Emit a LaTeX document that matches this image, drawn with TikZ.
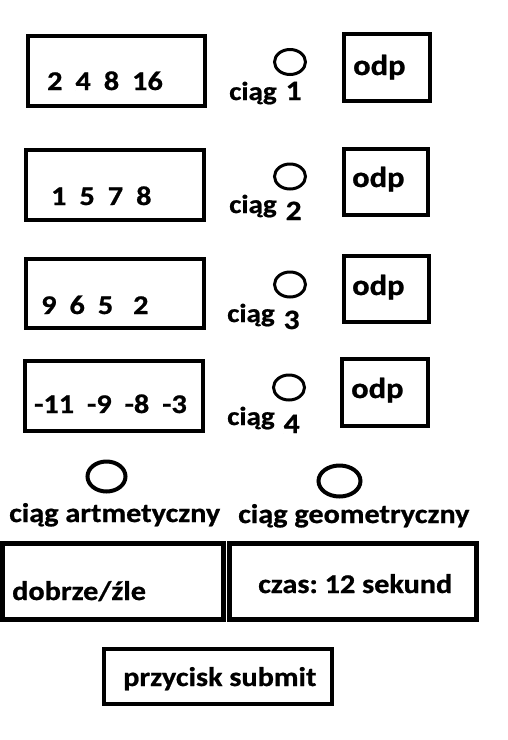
\documentclass[tikz,border=0pt]{standalone}
\usepackage{fontspec}
\setmainfont{Carlito}
\newfontfamily\paintfont{Carlito}[FakeStretch=1.12,FakeBold=0.8]
\usepackage{tikz}
\usetikzlibrary{shapes.geometric, positioning}
\tikzset{seqbox/.style={rectangle,draw,line width=4pt,inner sep=0pt},
         odpbox/.style={rectangle,draw,line width=4pt,inner sep=0pt},
         bigbox/.style={rectangle,draw,line width=5pt,inner sep=0pt},
         radio/.style={ellipse,draw,line width=3pt,inner sep=0pt},
         txt/.style={inner sep=0pt,anchor=base west,font=\paintfont\bfseries\fontsize{27}{30}\selectfont},
         labtxt/.style={txt,font=\paintfont\bfseries\fontsize{26}{30}\selectfont},
         odptxt/.style={txt,font=\paintfont\bfseries\fontsize{29}{32}\selectfont},
         bigtxt/.style={txt,font=\paintfont\bfseries\fontsize{27}{32}\selectfont}}
\newcommand{\gap}{\hspace{13pt}}
\newcommand{\seqno}[2]{\hspace{9pt}\raisebox{#1}{\fontsize{28}{30}\selectfont #2}}
\begin{document}
\begin{tikzpicture}[x=1pt,y=-1pt]
    \useasboundingbox (0,0) rectangle (508,740);
    % row 1
    \node (seq1) [seqbox, minimum width=177pt, minimum height=70pt] at (116.5,71) {};
    \node (nums1) [txt] at (47,90) {2\gap4\gap8\gap16};
    \node (dot1) [radio, minimum width=31pt, minimum height=25pt] at (290,62) {};
    \node (lab1) [labtxt] at (229,100) {ciąg\seqno{0pt}{1}};
    \node (odp1) [odpbox, minimum width=86pt, minimum height=67pt] at (387,67.5) {};
    \node (ans1) [odptxt] at (353,75) {odp};
    % row 2
    \node (seq2) [seqbox, minimum width=178pt, minimum height=70pt] at (115,185) {};
    \node (nums2) [txt] at (51,205) {1\gap5\gap7\gap8};
    \node (dot2) [radio, minimum width=31pt, minimum height=25pt] at (290,176.5) {};
    \node (lab2) [labtxt] at (229,213) {ciąg\seqno{-7pt}{2}};
    \node (odp2) [odpbox, minimum width=84pt, minimum height=66pt] at (386,182) {};
    \node (ans2) [odptxt] at (352,187) {odp};
    % row 3
    \node (seq3) [seqbox, minimum width=178pt, minimum height=69pt] at (115,293.5) {};
    \node (nums3) [txt] at (41,314) {9\gap6\gap5\hspace{20pt}2};
    \node (dot3) [radio, minimum width=31pt, minimum height=25pt] at (290,284.5) {};
    \node (lab3) [labtxt] at (227,322) {ciąg\seqno{-7pt}{3}};
    \node (odp3) [odpbox, minimum width=85pt, minimum height=66pt] at (386.5,289) {};
    \node (ans3) [odptxt] at (352,295) {odp};
    % row 4
    \node (seq4) [seqbox, minimum width=178pt, minimum height=70pt] at (114,396) {};
    \node (nums4) [txt] at (34,413) {-11\gap-9\gap-8\gap-3};
    \node (dot4) [radio, minimum width=31pt, minimum height=25pt] at (289,387.5) {};
    \node (lab4) [labtxt] at (227,425) {ciąg\seqno{-8pt}{4}};
    \node (odp4) [odpbox, minimum width=86pt, minimum height=67pt] at (385,392.5) {};
    \node (ans4) [odptxt] at (351,398) {odp};
    % sequence type
    \node (dotA) [radio, line width=4pt, minimum width=38pt, minimum height=30pt] at (106.5,476.5) {};
    \node (arit) [bigtxt] at (9,522) {ciąg artmetyczny};
    \node (dotG) [radio, line width=4pt, minimum width=42pt, minimum height=31pt] at (339.5,481) {};
    \node (geom) [bigtxt] at (238,523) {ciąg geometryczny};
    % result, timer, button
    \node (res) [bigbox, minimum width=221pt, minimum height=76pt] at (113,581.5) {};
    \node (restxt) [bigtxt] at (12,600) {dobrze/źle};
    \node (timer) [bigbox, minimum width=247pt, minimum height=76pt] at (353,581.5) {};
    \node (timetxt) [bigtxt] at (258,593) {czas:\ 12 sekund};
    \node (submit) [seqbox, minimum width=228pt, minimum height=55pt] at (218,676.5) {};
    \node (subtxt) [bigtxt] at (123,686) {przycisk submit};
\end{tikzpicture}
\end{document}
